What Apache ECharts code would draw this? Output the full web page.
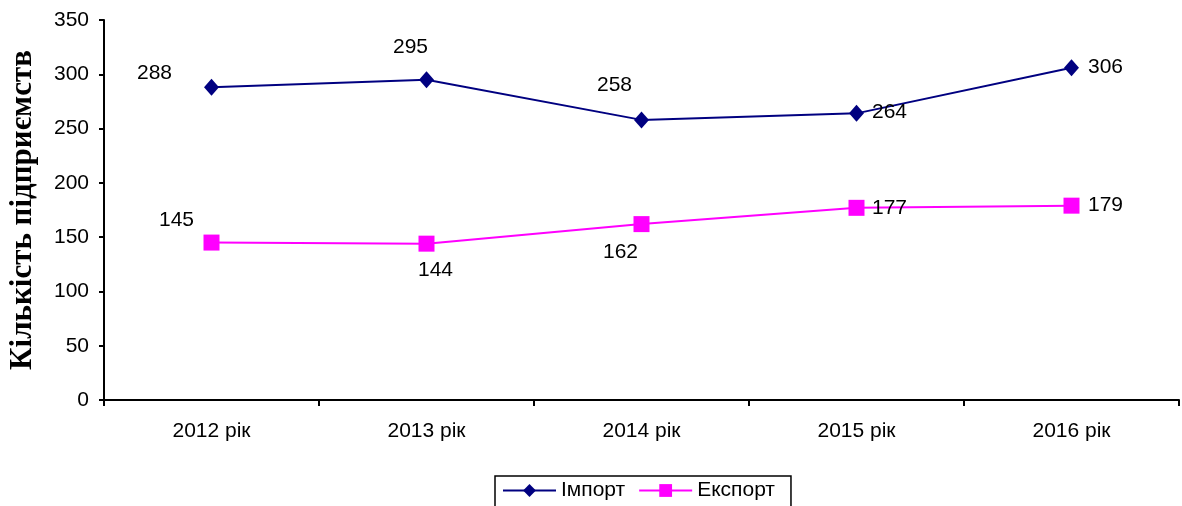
<!DOCTYPE html>
<html>
<head>
<meta charset="utf-8">
<script src="https://cdn.jsdelivr.net/npm/echarts@6/dist/echarts.min.js"></script>
<style>
  html, body { margin: 0; padding: 0; background: #fff; }
  #chart { width: 1182px; height: 506px; }
</style>
</head>
<body>
<div id="chart"></div>
<script>
const years = ["2012 рік", "2013 рік", "2014 рік", "2015 рік", "2016 рік"];
const importValues = [288, 295, 258, 264, 306];
const exportValues = [145, 144, 162, 177, 179];
const yTicks = { min: 0, max: 350, interval: 50 };

// where each value label sits relative to its point (Excel-ish placement)
const importLabelOffsets = [[-57, -14], [-16, -33], [-27, -35], [33, -1], [34, -1]];
const exportLabelOffsets = [[-35, -22], [9, 27], [-21, 28], [33, 0], [34, 0]];

const chart = echarts.init(document.getElementById("chart"));

function withLabels(values, offsets) {
  return values.map((v, i) => ({
    value: v,
    label: { offset: offsets[i] },
  }));
}

const font = "Liberation Sans, Arial";

const labelStyle = {
  show: true,
  position: "inside",
  color: "#000",
  fontSize: 21,
  fontFamily: font,
};

chart.setOption({
  animation: false,
  grid: {
    left: 104,
    right: 3,
    top: 20,
    bottom: 106,
    outerBoundsMode: "none",
  },
  legend: {
    left: 495,
    top: 476,
    padding: [4, 16, 12, 7],
    itemGap: 13,
    itemWidth: 53,
    itemHeight: 16,
    borderColor: "#000",
    borderWidth: 1.5,
    textStyle: {
      color: "#000",
      fontSize: 21,
      fontFamily: font,
    },
    data: ["Імпорт", "Експорт"],
  },
  xAxis: {
    type: "category",
    data: years,
    boundaryGap: true,
    axisLine: { lineStyle: { color: "#000", width: 2 } },
    axisTick: { show: true, length: 6, lineStyle: { color: "#000", width: 2 } },
    axisLabel: {
      color: "#000",
      fontSize: 21,
      fontFamily: font,
      margin: 21,
    },
  },
  yAxis: {
    type: "value",
    min: yTicks.min,
    max: yTicks.max,
    interval: yTicks.interval,
    name: "Кількість підприємств",
    nameLocation: "middle",
    nameGap: 66,
    nameTextStyle: {
      color: "#000",
      fontSize: 31,
      fontWeight: "bold",
      fontFamily: "Liberation Serif, Times New Roman",
    },
    axisLine: { show: true, lineStyle: { color: "#000", width: 2 } },
    axisTick: { show: true, length: 5, lineStyle: { color: "#000", width: 2 } },
    axisLabel: {
      color: "#000",
      fontSize: 21,
      fontFamily: font,
      margin: 15,
    },
    splitLine: { show: false },
  },
  series: [
    {
      name: "Імпорт",
      type: "line",
      data: withLabels(importValues, importLabelOffsets),
      symbol: "diamond",
      symbolSize: [15, 17],
      lineStyle: { color: "#000080", width: 2 },
      itemStyle: { color: "#000080" },
      label: labelStyle,
    },
    {
      name: "Експорт",
      type: "line",
      data: withLabels(exportValues, exportLabelOffsets),
      symbol: "rect",
      symbolSize: 16,
      lineStyle: { color: "#ff00ff", width: 2 },
      itemStyle: { color: "#ff00ff" },
      label: labelStyle,
    },
  ],
});
</script>
</body>
</html>
